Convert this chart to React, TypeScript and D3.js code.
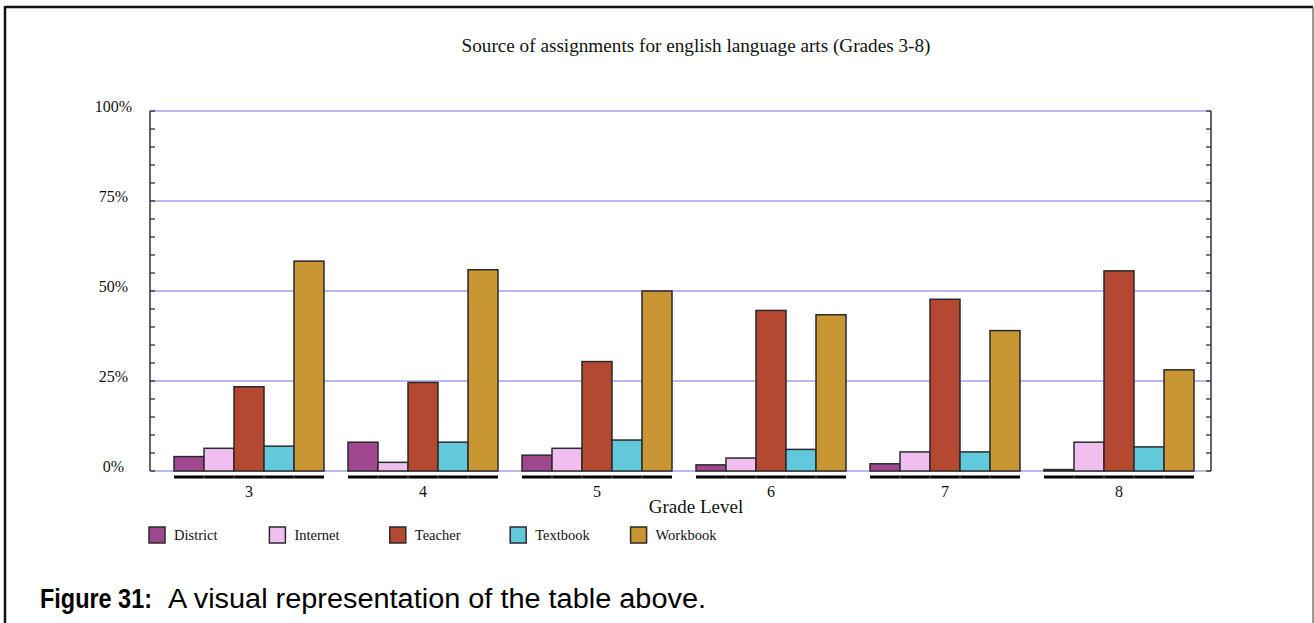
import React from "react";
import * as d3 from "d3";

const grades = ["3", "4", "5", "6", "7", "8"];
const seriesNames = ["District", "Internet", "Teacher", "Textbook", "Workbook"];
const seriesColors = ["#a0488f", "#f0bff0", "#b54831", "#62c8db", "#c89633"];
const district = [4.0, 8.0, 4.4, 1.7, 2.0, 0.4];
const internet = [6.3, 2.4, 6.3, 3.6, 5.3, 8.0];
const teacher = [23.4, 24.6, 30.4, 44.6, 47.7, 55.6];
const textbook = [6.9, 8.0, 8.6, 6.0, 5.3, 6.7];
const workbook = [58.3, 55.9, 50.0, 43.4, 39.0, 28.1];
const seriesValues = [district, internet, teacher, textbook, workbook];
const yTickValues = [0, 25, 50, 75, 100];
const yTickLabels = ["0%", "25%", "50%", "75%", "100%"];
const minorTicks = d3.range(0, 101, 5);

const W = 1314;
const H = 623;
const plotLeft = 150;
const plotRight = 1211;
const plotTop = 111;
const plotBottom = 471;

export default function App() {
  const y = d3.scaleLinear().domain([0, 100]).range([plotBottom, plotTop]);
  const x0 = d3
    .scaleBand<string>()
    .domain(grades)
    .range([162, 1206])
    .paddingInner(24 / 174)
    .paddingOuter(12 / 174);
  const x1 = d3
    .scaleBand<string>()
    .domain(seriesNames)
    .range([0, x0.bandwidth()]);
  const serif = "'Liberation Serif', 'Times New Roman', serif";
  const sans = "'Liberation Sans', Arial, sans-serif";
  const gridColor = "#a3a3ec";

  return (
    <svg
      width={W}
      height={H}
      style={{ position: "absolute", left: 0, top: 0, display: "block", background: "#fff" }}
    >
      {/* frame */}
      <line x1={5} y1={7} x2={1313} y2={7} stroke="#111" strokeWidth={2.5} />
      <line x1={5} y1={6} x2={5} y2={H} stroke="#111" strokeWidth={2.5} />
      <line x1={1313} y1={7} x2={1313} y2={H} stroke="#555" strokeWidth={1.2} />

      <text x={696} y={52} textAnchor="middle" fontFamily={serif} fontSize={19.2} fill="#111">
        Source of assignments for english language arts (Grades 3-8)
      </text>

      {/* gridlines */}
      {yTickValues.map((v) => (
        <line key={"g" + v} x1={plotLeft} x2={plotRight} y1={y(v)} y2={y(v)} stroke={gridColor} strokeWidth={1.5} />
      ))}

      {/* axes */}
      <line x1={plotLeft} x2={plotLeft} y1={plotTop} y2={plotBottom} stroke="#666" strokeWidth={2} />
      <line x1={plotRight} x2={plotRight} y1={plotTop} y2={plotBottom} stroke="#666" strokeWidth={2} />
      {minorTicks.map((v) => (
        <g key={"t" + v}>
          <line x1={plotLeft} x2={plotLeft + 5} y1={y(v)} y2={y(v)} stroke="#222" strokeWidth={1.2} />
          <line x1={plotRight - 5} x2={plotRight} y1={y(v)} y2={y(v)} stroke="#222" strokeWidth={1.2} />
        </g>
      ))}
      {yTickValues.map((v, i) => (
        <text key={"yl" + v} x={113.5} y={y(v) + 0.5} textAnchor="middle" fontFamily={serif} fontSize={16} fill="#111">
          {yTickLabels[i]}
        </text>
      ))}

      {/* bars */}
      {grades.map((g, gi) => (
        <g key={"grp" + g} transform={`translate(${x0(g)},0)`}>
          {seriesNames.map((s, si) => {
            const v = seriesValues[si][gi];
            return (
              <rect
                key={s}
                x={x1(s)}
                y={y(v)}
                width={x1.bandwidth()}
                height={plotBottom - y(v)}
                fill={seriesColors[si]}
                stroke="#2a2a2a"
                strokeWidth={1.5}
              />
            );
          })}
          <line x1={0} x2={x0.bandwidth()} y1={477} y2={477} stroke="#000" strokeWidth={3} />
          {seriesNames.slice(1).map((s) => (
            <line key={"st" + s} x1={x1(s)} x2={x1(s)} y1={475.5} y2={479} stroke="#888" strokeWidth={0.8} />
          ))}
          <text
            x={x0.bandwidth() / 2}
            y={497}
            textAnchor="middle"
            fontFamily={serif}
            fontSize={16}
            fill="#111"
          >
            {g}
          </text>
        </g>
      ))}

      <text x={696} y={513} textAnchor="middle" fontFamily={serif} fontSize={19} fill="#111">
        Grade Level
      </text>

      {/* legend */}
      {seriesNames.map((s, i) => {
        const lx = 149 + i * 120.4;
        return (
          <g key={"lg" + s}>
            <rect x={lx} y={527} width={16} height={16} fill={seriesColors[i]} stroke="#2a2a2a" strokeWidth={1.5} />
            <text x={lx + 25} y={540} fontFamily={serif} fontSize={14.5} fill="#111">
              {s}
            </text>
          </g>
        );
      })}

      <text
        x={40}
        y={608}
        fontFamily={sans}
        fontSize={27}
        fontWeight="bold"
        fill="#000"
        textLength={112}
        lengthAdjust="spacingAndGlyphs"
      >
        Figure 31:
      </text>
      <text
        x={168}
        y={608}
        fontFamily={sans}
        fontSize={27}
        fill="#000"
        textLength={538}
        lengthAdjust="spacingAndGlyphs"
      >
        A visual representation of the table above.
      </text>
    </svg>
  );
}
